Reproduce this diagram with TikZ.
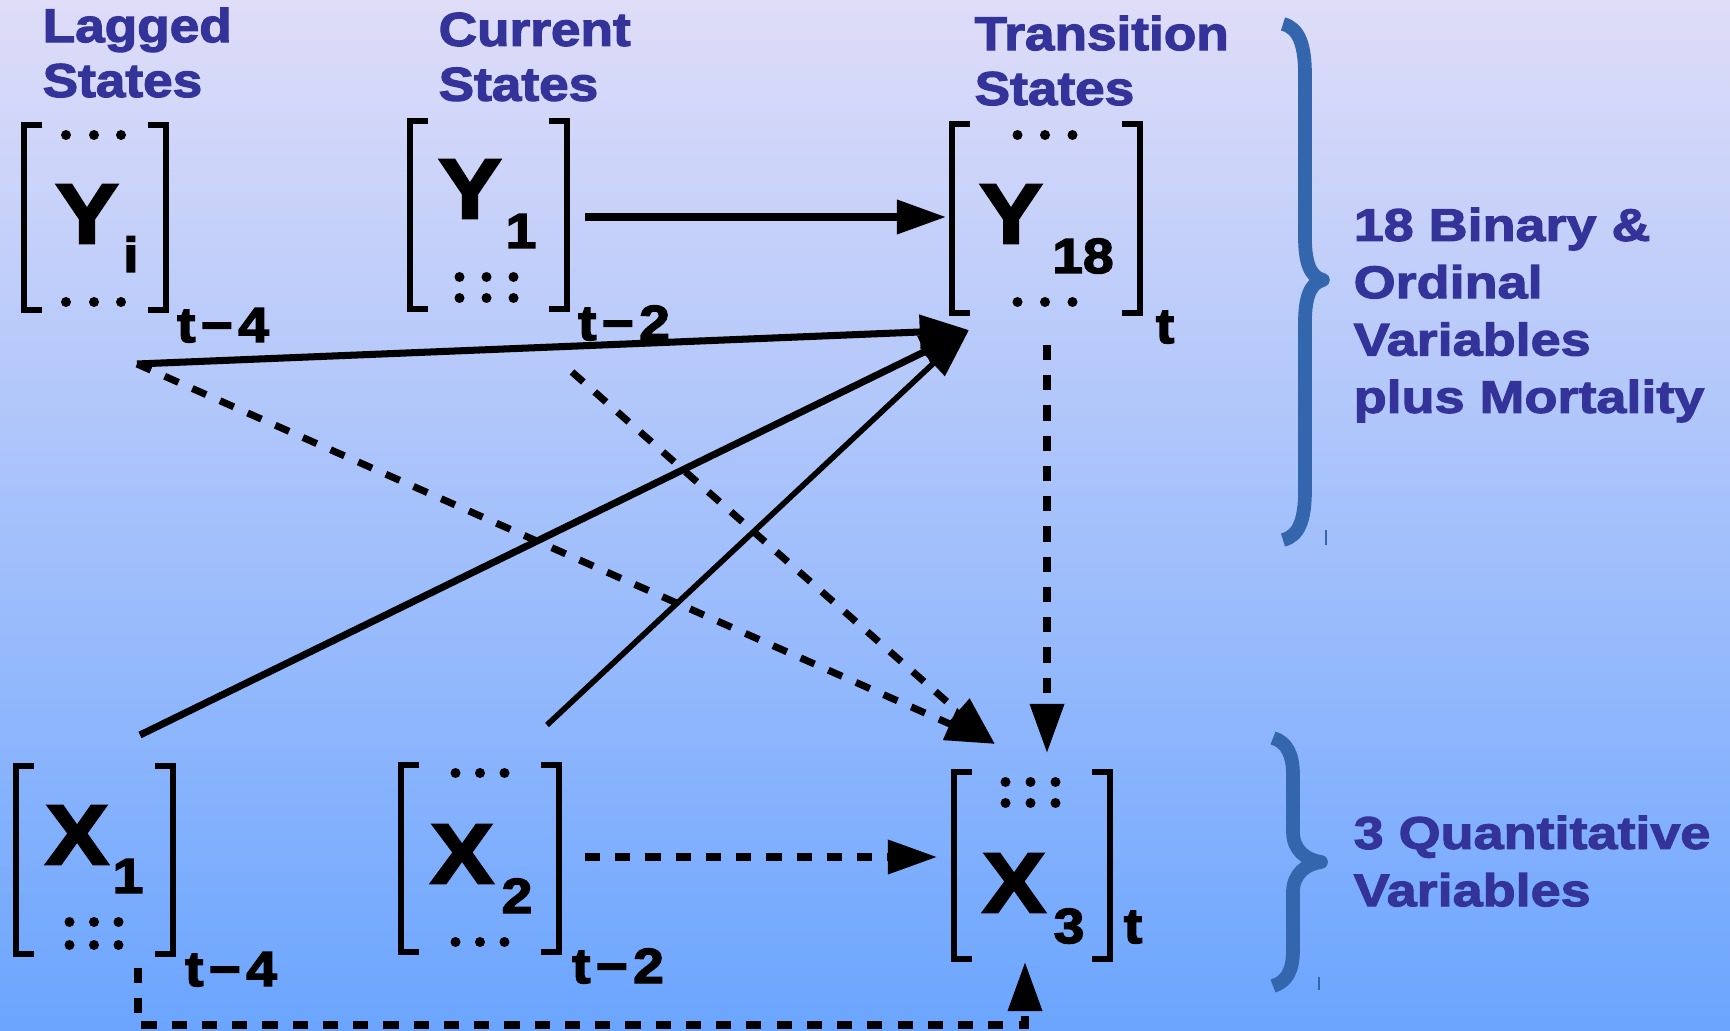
\documentclass[tikz,border=0pt]{standalone}
\usepackage{fontspec}
\setmainfont{Liberation Sans}
\newfontfamily\hvA[FakeStretch=1.12,FakeBold=2.5]{Liberation Sans Bold}
\newfontfamily\hvB[FakeStretch=1.18,FakeBold=2.5]{Liberation Sans Bold}
\newfontfamily\hvC[FakeStretch=1.12,FakeBold=3]{Liberation Sans Bold}
\usetikzlibrary{arrows.meta}
\definecolor{bgtop}{RGB}{223,221,248}
\definecolor{bgbot}{RGB}{107,165,254}
\definecolor{titleblue}{RGB}{51,51,153}
\definecolor{bracecol}{RGB}{51,102,172}
\tikzset{
  ttl/.style={font=\hvA\fontsize{13.5}{15.6}\selectfont, text=titleblue, anchor=north west, inner sep=0pt, align=left},
  side/.style={font=\hvB\fontsize{13}{16.3}\selectfont, text=titleblue, anchor=north west, inner sep=0pt, align=left},
  big/.style={font=\hvC\fontsize{24}{24}\selectfont, anchor=base, inner sep=0pt},
  sub/.style={font=\hvC\fontsize{14}{14}\selectfont, anchor=base, inner sep=0pt},
  brk/.style={line width=1.7pt, line join=miter},
  sol/.style={line width=2pt, -{Triangle[length=14pt,width=9.4pt]}},
  dsh/.style={sol, dash pattern=on 4.3pt off 4.3pt},
  brc/.style={draw=bracecol, line width=3.9pt, line join=round},
}
\newcommand\mbr[4]{%
  \draw[brk] (#1+18,#3) -- (#1,#3) -- (#1,#4) -- (#1+18,#4);
  \draw[brk] (#2-18,#3) -- (#2,#3) -- (#2,#4) -- (#2-18,#4);}
\newcommand\dotrow[4]{\foreach \xx in {#1,#2,#3} {\fill (\xx,#4) circle (5);}}
\begin{document}
\begin{tikzpicture}[x=0.01cm,y=-0.01cm]
\useasboundingbox (0,0) rectangle (1730,1031);
\shade[top color=bgtop,bottom color=bgbot] (0,0) rectangle (1730,1031);

% titles
\node[ttl] (tlag) at (42,7) {Lagged\\States};
\node[ttl] (tcur) at (438,12) {Current\\States};
\node[ttl] (ttra) at (974,15) {Transition\\States};

% Y_i
\mbr{24}{166}{125}{310}
\dotrow{66}{94}{121}{135}
\dotrow{66}{94}{121}{302}
\node[big] (Yi) at (87,243) {Y};
\node[sub] (Yis) at (131,272) {i};
\node[sub] (Yit) at (223,342) {t\kern1.5pt−\kern1.5pt4};

% Y_1
\mbr{410}{567}{121}{309}
\dotrow{459.5}{486.5}{513.5}{277}
\dotrow{459.5}{486.5}{513.5}{298}
\node[big] (Y1) at (470,218) {Y};
\node[sub] (Y1s) at (521,248) {1};
\node[sub] (Y1t) at (624,340) {t\kern1.5pt−\kern1.5pt2};

% Y_18
\mbr{952}{1140}{124}{313}
\dotrow{1017.5}{1045}{1072.5}{135}
\dotrow{1017.5}{1045}{1072.5}{302}
\node[big] (Y18) at (1011,243) {Y};
\node[sub] (Y18s) at (1083,273) {18};
\node[sub] (Y18t) at (1165,343) {t};

% X_1
\mbr{16}{173}{766}{954}
\dotrow{69.5}{94}{118.5}{922}
\dotrow{69.5}{94}{118.5}{945}
\node[big] (X1) at (77,864) {X};
\node[sub] (X1s) at (128,893) {1};
\node[sub] (X1t) at (231,986) {t\kern1.5pt−\kern1.5pt4};

% X_2
\mbr{401}{559}{765}{952}
\dotrow{455.5}{480}{504.5}{773}
\dotrow{455.5}{480}{504.5}{942}
\node[big] (X2) at (462,883) {X};
\node[sub] (X2s) at (517,913) {2};
\node[sub] (X2t) at (618,983) {t\kern1.5pt−\kern1.5pt2};

% X_3
\mbr{954}{1110}{772}{959}
\dotrow{1005.5}{1030.5}{1055.5}{782}
\dotrow{1005.5}{1030.5}{1055.5}{803}
\node[big] (X3) at (1014,912) {X};
\node[sub] (X3s) at (1069,943) {3};
\node[sub] (X3t) at (1133,943) {t};

% braces
\draw[brc] (1283,24) .. controls (1299,28) and (1305,45) .. (1305,75) -- (1305,238)
  .. controls (1305,262) and (1310,277) .. (1323,280)
  .. controls (1310,283) and (1305,298) .. (1305,322) -- (1305,490)
  .. controls (1305,520) and (1299,536) .. (1283,540);
\draw[bracecol, line width=0.4pt] (1326,530) -- (1326,545);
\draw[brc] (1273,738) .. controls (1287,742) and (1293,755) .. (1293,775) -- (1293,832)
  .. controls (1293,850) and (1306,860) .. (1321,862)
  .. controls (1306,864) and (1293,874) .. (1293,892) -- (1293,950)
  .. controls (1293,970) and (1287,982) .. (1273,986);
\draw[bracecol, line width=0.4pt] (1319,977) -- (1319,990);

\node[side] (sideY) at (1353,207) {18 Binary \&\\Ordinal\\Variables\\plus Mortality};
\node[side] (sideX) at (1353,815) {3 Quantitative\\Variables};

% connector end points
\coordinate (yiA) at (137,364);
\coordinate (y1E) at (585,217);
\coordinate (y18W) at (946,217);
\coordinate (y18A) at (969,330);
\coordinate (x1A) at (140,735);
\coordinate (x2A) at (547,725);
\coordinate (y1B) at (572,372);
\coordinate (x3A) at (995,744);
\coordinate (y18B) at (1047,345);
\coordinate (x3N) at (1047,753);
\coordinate (x2E) at (585,857);
\coordinate (x3W) at (937,857);
\coordinate (x1B) at (138,968);
\coordinate (botR) at (1025,1025);
\coordinate (x3S) at (1025,962);

\draw[sol] (y1E) -- (y18W);
\draw[sol] (yiA) -- (y18A);
\draw[sol] (x1A) -- (y18A);
\draw[sol, line width=1.6pt] (x2A) -- (y18A);
\draw[dsh] (yiA) -- (x3A);
\draw[dsh] (y1B) -- (x3A);
\draw[dsh] (y18B) -- (x3N);
\draw[dsh] (x2E) -- (x3W);
\draw[dsh] (x1B) |- (botR) -- (x3S);
\end{tikzpicture}
\end{document}
